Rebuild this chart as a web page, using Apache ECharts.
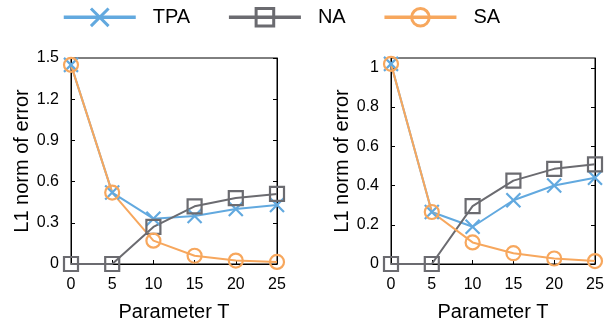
<!DOCTYPE html>
<html>
<head>
<meta charset="utf-8">
<script src="https://cdn.jsdelivr.net/npm/echarts@6/dist/echarts.min.js"></script>
<style>html,body{margin:0;padding:0;background:#fff}#c{width:613px;height:328px}</style>
</head>
<body>
<div id="c"></div>
<script>
const xValues = [0, 5, 10, 15, 20, 25];
const xTicks = [0, 5, 10, 15, 20, 25];
const seriesNames = ['TPA', 'NA', 'SA'];
// left panel
const leftTPA = [1.45, 0.52, 0.33, 0.35, 0.40, 0.43];
const leftNA  = [0, 0, 0.27, 0.42, 0.48, 0.51];
const leftSA  = [1.45, 0.52, 0.17, 0.06, 0.025, 0.015];
const leftYTicks = [0, 0.3, 0.6, 0.9, 1.2, 1.5];
// right panel
const rightTPA = [1.02, 0.265, 0.19, 0.325, 0.40, 0.44];
const rightNA  = [0, 0, 0.295, 0.425, 0.485, 0.508];
const rightSA  = [1.02, 0.265, 0.11, 0.055, 0.028, 0.015];
const rightYTicks = [0, 0.2, 0.4, 0.6, 0.8, 1];

const FONT = 'Liberation Sans, Arial, Helvetica, sans-serif';
const colors = { TPA: '#62a9df', NA: '#6b6b70', SA: '#f7a75d' };
const symbols = { TPA: 'path://M0,0L10,10M10,0L0,10', NA: 'rect', SA: 'circle' };

function pair(a, b) { return a.map((v, i) => [a[i], b[i]]); }

function mkSeries(name, values, idx) {
  return {
    name: name, type: 'line',
    xAxisIndex: idx, yAxisIndex: idx * 2,
    data: pair(xValues, values),
    symbol: symbols[name], symbolSize: 14,
    clip: false,
    lineStyle: { color: colors[name], width: 2 },
    itemStyle: { color: 'rgba(0,0,0,0)', borderColor: colors[name], borderWidth: 2.2 },
    emphasis: { disabled: true },
    animation: false
  };
}

function xAxisFor(idx) {
  return {
    type: 'value', gridIndex: idx, min: 0, max: 25, interval: 5,
    name: 'Parameter T', nameLocation: 'middle', nameGap: 38,
    nameTextStyle: { fontFamily: FONT, fontSize: 20, color: '#000' },
    axisLine: { show: true, lineStyle: { color: '#000', width: 1 } },
    axisTick: { show: true, inside: true, length: 4, lineStyle: { color: '#000' } },
    axisLabel: { fontFamily: FONT, fontSize: 16, color: '#000', margin: 13,
      customValues: xTicks },
    splitLine: { show: false }
  };
}

function yAxesFor(idx, max, ticks) {
  return [{
    type: 'value', gridIndex: idx, min: 0, max: max, position: 'left',
    name: 'L1 norm of error', nameLocation: 'middle', nameGap: 37,
    nameTextStyle: { fontFamily: FONT, fontSize: 20, color: '#000' },
    axisLine: { show: true, lineStyle: { color: '#000', width: 1 } },
    axisTick: { show: true, inside: true, length: 4, customValues: ticks, lineStyle: { color: '#000' } },
    axisLabel: { fontFamily: FONT, fontSize: 16, color: '#000', margin: 12, customValues: ticks },
    splitLine: { show: false }
  }, {
    type: 'value', gridIndex: idx, min: 0, max: max, position: 'right',
    axisLine: { show: true, lineStyle: { color: '#000', width: 1 } },
    axisTick: { show: true, inside: true, length: 4, customValues: ticks, lineStyle: { color: '#000' } },
    axisLabel: { show: false },
    splitLine: { show: false }
  }];
}

const option = {
  animation: false,
  backgroundColor: '#fff',
  legend: {
    data: seriesNames, top: 7, left: 62, padding: 0,
    itemWidth: 72, itemHeight: 22, itemGap: 37,
    textStyle: { fontFamily: FONT, fontSize: 20, color: '#000', padding: [0, 0, 0, 12] },
    lineStyle: { width: 3.5 },
    itemStyle: { borderWidth: 3 }
  },
  grid: [
    { left: 71, right: 336, top: 58, bottom: 64, show: true, borderColor: '#000', borderWidth: 1 },
    { left: 391, right: 18, top: 58, bottom: 64, show: true, borderColor: '#000', borderWidth: 1 }
  ],
  xAxis: [xAxisFor(0), xAxisFor(1)],
  yAxis: [].concat(yAxesFor(0, 1.5, leftYTicks), yAxesFor(1, 1.05, rightYTicks)),
  series: [
    mkSeries('TPA', leftTPA, 0), mkSeries('NA', leftNA, 0), mkSeries('SA', leftSA, 0),
    mkSeries('TPA', rightTPA, 1), mkSeries('NA', rightNA, 1), mkSeries('SA', rightSA, 1)
  ]
};

const chart = echarts.init(document.getElementById('c'), null, { renderer: 'canvas' });
chart.setOption(option);
</script>
</body>
</html>
